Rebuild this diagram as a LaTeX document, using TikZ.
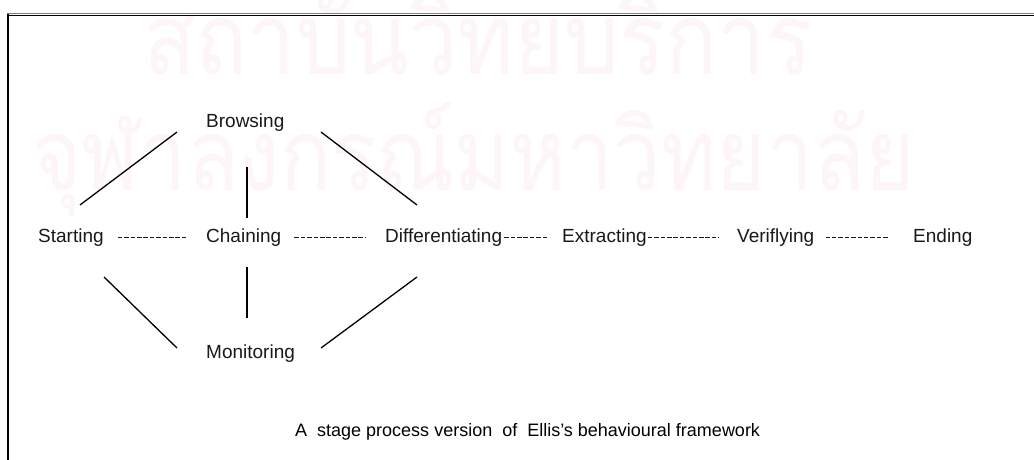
\documentclass[tikz,border=0pt]{standalone}
\usepackage{graphicx}
\usepackage{fontspec}
\setmainfont{Liberation Sans}
\newfontfamily\thaifont[Script=Thai]{Loma}
\usetikzlibrary{calc}
\definecolor{wmpink}{RGB}{253,245,248}
\definecolor{ink}{RGB}{25,25,25}
\begin{document}
\begin{tikzpicture}[x=1pt,y=-1pt,
  lbl/.style={anchor=base west, inner sep=0pt, font=\fontsize{19}{22}\selectfont, text=ink},
  captiontext/.style={anchor=base west, inner sep=0pt, font=\fontsize{18}{21}\selectfont, text=black},
  link/.style={line width=1.3pt, draw=black},
  dashlink/.style={line width=1.9pt, draw=ink, dash pattern=on 4.5pt off 1.9pt},
  wm/.style={anchor=base west, inner sep=0pt, text=wmpink, font=\thaifont\fontsize{100}{110}\selectfont},
  frameline/.style={line width=2pt, draw=black}]
\useasboundingbox (0,0) rectangle (1034,460);
\fill[white] (0,0) rectangle (1034,460);
% watermark
\node[wm] (wmA) at (143,75) {\scalebox{0.86}[1]{สถาบันวิทยบริการ}};
\node[wm] (wmB) at (32,190) {\scalebox{0.845}[1]{จุฬาลงกรณ์มหาวิทยาลัย}};
% frame
\draw[line width=1pt, draw=gray] (7,14) -- (1034,14);
\draw[line width=1.2pt, draw=black] (7,15.6) -- (1034,15.6);
\draw[frameline] (7.5,14) -- (7.5,460);
% nodes
\node[lbl] (start) at (38,242.5) {Starting};
\node[lbl] (chain) at (206,242.5) {Chaining};
\node[lbl] (diff) at (385,242.5) {Differentiating};
\node[lbl] (extr) at (562,242.5) {Extracting};
\node[lbl] (veri) at (737,242.5) {Veriflying};
\node[lbl] (ending) at (913,242.5) {Ending};
\node[lbl] (brow) at (206,128) {Browsing};
\node[lbl] (moni) at (206,358) {Monitoring};
\node[captiontext] (caption) at (295,436.7) {A\ \ stage process version\ \ of\ \ Ellis’s behavioural framework};
% dashed stage links
\draw[dashlink, shorten <=14pt, shorten >=19pt] ([yshift=5pt]start.base east) -- ([yshift=5pt]chain.base west);
\draw[dashlink, shorten <=13pt, shorten >=19pt] ([yshift=5pt]chain.base east) -- ([yshift=5pt]diff.base west);
\draw[dashlink, shorten <=2pt, shorten >=13pt] ([yshift=5pt]diff.base east) -- ([yshift=5pt]extr.base west);
\draw[dashlink, shorten <=1pt, shorten >=18pt] ([yshift=5pt]extr.base east) -- ([yshift=5pt]veri.base west);
\draw[dashlink, shorten <=11pt, shorten >=25pt] ([yshift=5pt]veri.base east) -- ([yshift=5pt]ending.base west);
% solid links
\draw[link] ($(start.base west)+(42,-37.5)$) -- ($(brow.base west)+(-29,4)$);
\draw[link] ($(brow.base west)+(115,4)$) -- ($(diff.base west)+(32,-37.5)$);
\draw[link] ($(brow.base west)+(41,39)$) -- ($(chain.base west)+(41,-24.5)$);
\draw[link] ($(chain.base west)+(41,24.5)$) -- ($(moni.base west)+(41,-40)$);
\draw[link] ($(start.base west)+(66,34.5)$) -- ($(moni.base west)+(-29,-10)$);
\draw[link] ($(diff.base west)+(32,34.5)$) -- ($(moni.base west)+(115,-10)$);
\end{tikzpicture}
\end{document}
